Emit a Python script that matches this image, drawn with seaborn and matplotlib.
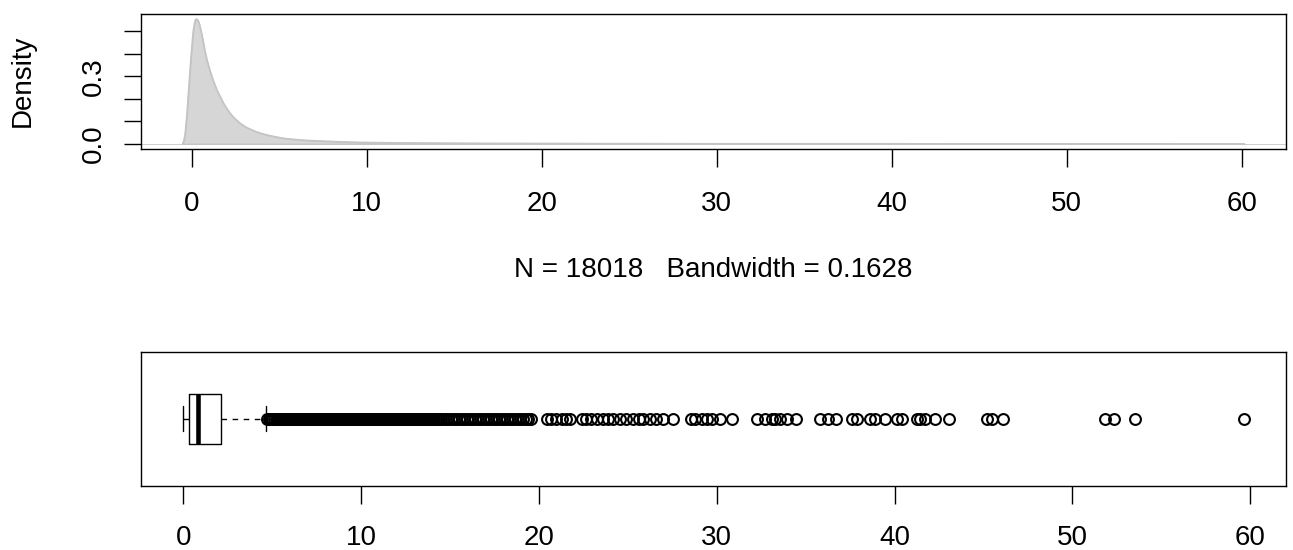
import matplotlib
matplotlib.use("Agg")
import matplotlib.pyplot as plt
import seaborn as sns

# ---------------- data ----------------
dens_x = [-0.53, -0.45, -0.38, -0.28, -0.19, -0.1, 0.0, 0.08, 0.15, 0.22, 0.28,
          0.35, 0.44, 0.53, 0.63, 0.74, 0.86, 1.0, 1.14, 1.28, 1.43, 1.62, 1.81,
          2.0, 2.19, 2.45, 2.76, 3.1, 3.52, 3.9, 4.29, 4.75, 5.24, 5.7, 6.19,
          6.7, 7.33, 8.0, 8.67, 9.5, 10.5, 12.0, 14.0, 17.0, 20.0, 25.0, 30.0,
          35.0, 40.0, 45.0, 50.0, 55.0, 60.15]
dens_y = [0.0, 0.015, 0.046, 0.13, 0.23, 0.33, 0.43, 0.50, 0.536, 0.553, 0.555,
          0.55, 0.53, 0.50, 0.462, 0.415, 0.373, 0.335, 0.30, 0.27, 0.24, 0.21,
          0.181, 0.157, 0.136, 0.113, 0.092, 0.074, 0.059, 0.048, 0.04, 0.032,
          0.025, 0.021, 0.018, 0.015, 0.013, 0.011, 0.009, 0.007, 0.006, 0.0045,
          0.0035, 0.0025, 0.002, 0.0012, 0.0009, 0.0007, 0.0006, 0.0004, 0.0002,
          0.0001, 0.0]

x_ticks = [0, 10, 20, 30, 40, 50, 60]
x_tick_labels = ["0", "10", "20", "30", "40", "50", "60"]
y_ticks = [0.0, 0.1, 0.2, 0.3, 0.4, 0.5]
y_tick_labels = ["0.0", "", "", "0.3", "", ""]

density_ylabel = "Density"
density_xlabel = "N = 18018   Bandwidth = 0.1628"

whisker_lo = 0.0
box_q1 = 0.34
box_median = 0.85
box_q3 = 2.1
whisker_hi = 4.66

outliers_dense = [4.7, 4.8, 4.9, 5.0, 5.1, 5.2, 5.3, 5.4, 5.5, 5.6, 5.7, 5.8, 5.9,
                  6.0, 6.1, 6.2, 6.3, 6.4, 6.5, 6.6, 6.7, 6.8, 6.9, 7.0, 7.1, 7.2,
                  7.3, 7.4, 7.5, 7.6, 7.7, 7.8, 7.9, 8.0, 8.1, 8.2, 8.3, 8.4, 8.5,
                  8.6, 8.7, 8.8, 8.9, 9.0, 9.1, 9.2, 9.3, 9.4, 9.5, 9.6, 9.7, 9.8,
                  9.9, 10.0, 10.1, 10.2, 10.3, 10.4, 10.5, 10.6, 10.7, 10.8, 10.9,
                  11.0, 11.1, 11.2, 11.3, 11.4, 11.5, 11.6, 11.7, 11.8, 11.9, 12.0,
                  12.1, 12.2, 12.3, 12.4, 12.5, 12.6, 12.7, 12.8, 12.9, 13.0]
outliers_mid = [13.1, 13.2, 13.3, 13.4, 13.5, 13.6, 13.7, 13.8, 13.9, 14.0, 14.1,
                14.2, 14.3, 14.4, 14.5, 14.6, 14.75, 14.9, 15.05, 15.2, 15.35,
                15.5, 15.65, 15.8, 15.95, 16.1, 16.25, 16.4, 16.55, 16.7, 16.85,
                17.0, 17.15, 17.3, 17.45, 17.6, 17.75, 17.9, 18.05, 18.2, 18.35,
                18.5, 18.65, 18.8, 18.95, 19.1, 19.25, 19.4, 19.55]
outliers_sparse = [20.48, 20.70, 20.98, 21.27, 21.55, 21.77, 22.45, 22.67, 22.95,
                   23.24, 23.61, 23.89, 24.17, 24.55, 24.92, 25.30, 25.6, 25.86,
                   26.24, 26.61, 26.98, 27.55, 28.53, 28.77, 29.15, 29.43, 29.71,
                   30.17, 30.83, 32.27, 32.71, 33.08, 33.27, 33.55, 33.93, 34.45,
                   35.80, 36.27, 36.7, 37.59, 37.87, 38.62, 38.90, 39.46, 40.12,
                   40.40, 41.24, 41.43, 41.71, 42.27, 43.08, 45.18, 45.46, 46.12,
                   51.84, 52.36, 53.51, 59.62]

# ---------------- styling ----------------
sns.set_style("white")
plt.rcParams['font.family'] = ['Liberation Sans', 'DejaVu Sans']
plt.rcParams['font.size'] = 20
for key in ("text.color", "axes.labelcolor", "xtick.color", "ytick.color",
            "axes.edgecolor"):
    plt.rcParams[key] = "black"

W, H = 1293, 550
fig = plt.figure(figsize=(W / 100, H / 100), dpi=100)
fig.patch.set_facecolor("white")


def px_axes(left, top, right, bottom):
    return fig.add_axes([left / W, 1 - bottom / H, (right - left) / W, (bottom - top) / H])


ax1 = px_axes(140.8, 14.0, 1286.0, 148.8)
ax2 = px_axes(140.8, 351.7, 1286.0, 485.7)

for ax in (ax1, ax2):
    ax.set_facecolor("white")
    for sp in ax.spines.values():
        sp.set_visible(True)
        sp.set_color("black")
        sp.set_linewidth(1.0)

# ---------------- top: density ----------------
ax1.axhline(0, color="#c8c8c8", lw=0.6, zorder=1)
ax1.fill_between(dens_x, dens_y, 0, facecolor="#d6d6d6", edgecolor="#c4c4c4",
                 lw=1.0, zorder=2)
sns.lineplot(x=dens_x, y=dens_y, ax=ax1, color="#c4c4c4", lw=1.0, zorder=3)
ax1.set_xlim(-2.91, 62.53)
ax1.set_ylim(-0.0222, 0.577)
ax1.set_xticks(x_ticks)
ax1.set_xticklabels(x_tick_labels)
ax1.set_yticks(y_ticks)
ax1.set_yticklabels(y_tick_labels, rotation=90, va="center")
ax1.tick_params(axis="x", direction="out", length=12.6, width=1.0, pad=18,
                labelsize=20, colors="black", bottom=True)
ax1.tick_params(axis="y", direction="out", length=12.0, width=1.0, pad=12.6,
                labelsize=20, colors="black", left=True)
ax1.set_xlabel("")
ax1.set_ylabel("")

fig.text(713.4 / W, 1 - 277.3 / H, density_xlabel, ha="center", va="baseline",
         fontsize=20, color="black")
fig.text(23 / W, 1 - 81 / H, density_ylabel, rotation=90, ha="center",
         va="center", fontsize=20, color="black")

# ---------------- bottom: boxplot ----------------
fliers = outliers_dense + outliers_mid + outliers_sparse
stats = [dict(whislo=whisker_lo, q1=box_q1, med=box_median, q3=box_q3,
              whishi=whisker_hi, fliers=fliers)]
ax2.bxp(stats, positions=[1], widths=0.4, capwidths=0.2,
        orientation="horizontal", manage_ticks=False,
        boxprops=dict(color="black", lw=1.0),
        medianprops=dict(color="black", lw=3.3, solid_capstyle="butt"),
        whiskerprops=dict(color="black", lw=1.0, ls=(0, (4, 4))),
        capprops=dict(color="black", lw=1.0),
        flierprops=dict(marker="o", mfc="none", mec="black", ms=7.8, mew=1.5,
                        ls="none"))
ax2.set_xlim(-2.385, 62.005)
ax2.set_ylim(0.46, 1.54)
ax2.set_yticks([])
ax2.set_xticks(x_ticks)
ax2.set_xticklabels(x_tick_labels)
ax2.tick_params(axis="x", direction="out", length=12.6, width=1.0, pad=15.5,
                labelsize=20, colors="black", bottom=True)

fig.savefig("out.png", dpi=100, facecolor="white")
